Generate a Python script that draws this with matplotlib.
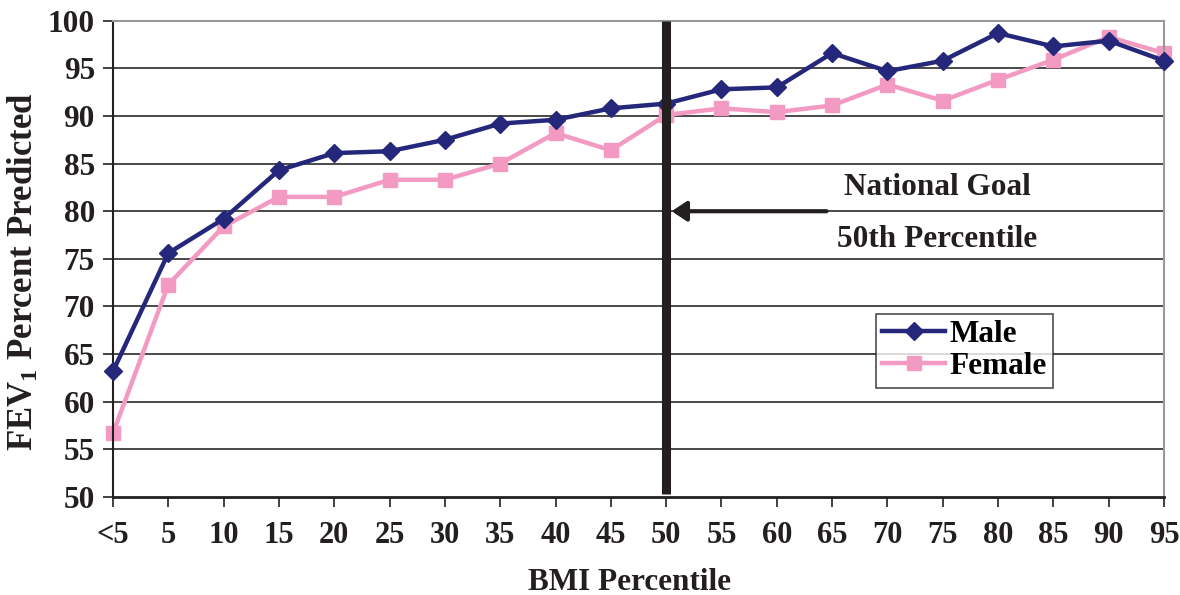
import numpy as np
import matplotlib
matplotlib.use("Agg")
import matplotlib.pyplot as plt

# FEV1 % predicted by BMI percentile
categories = ["<5", "5", "10", "15", "20", "25", "30", "35", "40", "45",
              "50", "55", "60", "65", "70", "75", "80", "85", "90", "95"]
male = [63.2, 75.6, 79.2, 84.3, 86.1, 86.3, 87.5, 89.2, 89.6, 90.8,
        91.3, 92.8, 93.0, 96.6, 94.7, 95.8, 98.7, 97.3, 97.9, 95.8]
female = [56.7, 72.3, 78.4, 81.5, 81.5, 83.3, 83.3, 85.0, 88.2, 86.4,
          90.1, 90.8, 90.4, 91.1, 93.3, 91.6, 93.8, 95.9, 98.3, 96.6]
yticks = [50, 55, 60, 65, 70, 75, 80, 85, 90, 95, 100]
goal_idx = 10  # 50th percentile

plt.rcParams['font.family'] = ['Liberation Serif', 'DejaVu Serif']
plt.rcParams['font.weight'] = 'bold'
plt.rcParams['mathtext.fontset'] = 'custom'
plt.rcParams['mathtext.rm'] = 'Liberation Serif:bold'
plt.rcParams['mathtext.it'] = 'Liberation Serif:bold'
plt.rcParams['mathtext.bf'] = 'Liberation Serif:bold'

NAVY = "#25287a"
PINK = "#f39ac2"
INK = "#231f20"
FS = 22.5

fig = plt.figure(figsize=(11.8, 5.95), dpi=100)
ax = fig.add_axes([113 / 1180, 0.1647, (1164 - 113) / 1180, 0.8005])

x = np.arange(len(categories))

# grid lines
for v in yticks[1:-1]:
    ax.axhline(v, color="#3a3a3a", lw=1.3, zorder=1)

ax.plot(x, male, '-D', color=NAVY, lw=3.2, markersize=9, label="Male",
        clip_on=False, zorder=3)
ax.plot(x, female, '-s', color=PINK, lw=3.2, markersize=9.5, label="Female",
        clip_on=False, zorder=2)

# national goal bar + arrow
ax.plot([goal_idx, goal_idx], [50.3, 100], color=INK, lw=6.5,
        solid_capstyle='butt', zorder=4)
ax.annotate("", xy=(goal_idx + 0.1, 80), xytext=(12.9, 80),
            arrowprops=dict(arrowstyle="-|>,head_length=0.45,head_width=0.3",
                            color=INK, lw=3, mutation_scale=20,
                            shrinkA=0, shrinkB=0), zorder=5)
ax.text(14.9, 82.5, "National Goal", ha="center", va="center", fontsize=FS,
        fontweight="bold", color=INK)
ax.text(14.9, 77.0, "50th Percentile", ha="center", va="center", fontsize=FS,
        fontweight="bold", color=INK)

ax.set_xlim(0, len(categories) - 1)
ax.set_ylim(50, 100)
ax.set_xticks(x)
ax.set_xticklabels(categories)
ax.set_yticks(yticks)
ax.tick_params(axis='both', direction='out', labelsize=FS, colors=INK)
ax.tick_params(axis='x', labelsize=22)
ax.tick_params(axis='y', length=7, width=1.2, pad=6)
ax.tick_params(axis='x', length=7, width=1.2, pad=10)

ax.spines['left'].set_color(INK)
ax.spines['left'].set_linewidth(1.5)
ax.spines['bottom'].set_color(INK)
ax.spines['bottom'].set_linewidth(2)
ax.spines['top'].set_color("#999999")
ax.spines['top'].set_linewidth(1.5)
ax.spines['right'].set_color("#999999")
ax.spines['right'].set_linewidth(1.5)

fig.text(630 / 1180, 1 - 582 / 595, "BMI Percentile", ha="center", va="center",
         fontsize=FS, fontweight="bold", color=INK)
fig.text(24 / 1180, 1 - 272 / 595, "FEV$_1$ Percent Predicted", ha="center",
         va="center", rotation=90, fontsize=25, fontweight="bold", color=INK)

leg = fig.legend(loc="upper left", bbox_to_anchor=(876 / 1180, 1 - 314 / 595),
                 fontsize=FS, frameon=True, fancybox=False, handlelength=2.0,
                 handletextpad=0.15, borderpad=0.2, labelspacing=0.1,
                 borderaxespad=0)
leg.get_frame().set_edgecolor(INK)
leg.get_frame().set_linewidth(1.2)

fig.savefig("out.png", dpi=100)
